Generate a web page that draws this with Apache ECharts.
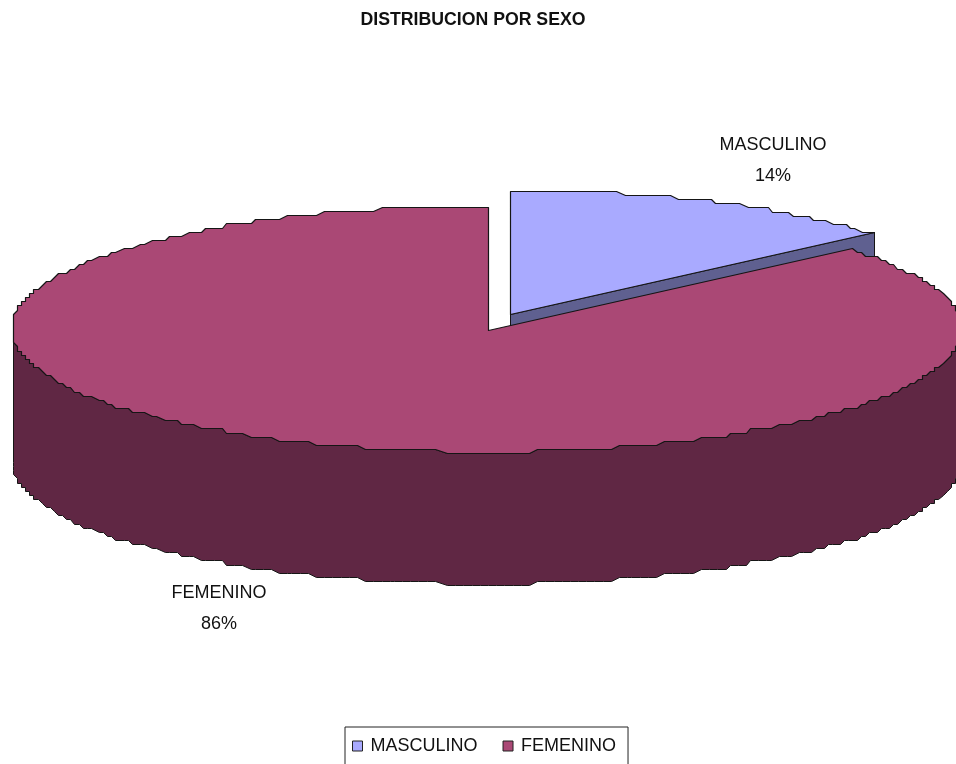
<!DOCTYPE html>
<html>
<head>
<meta charset="utf-8">
<style>html,body{margin:0;padding:0;background:#fff}#c{width:956px;height:764px}</style>
<script src="https://cdn.jsdelivr.net/npm/echarts@6/dist/echarts.min.js"></script>
</head>
<body>
<div id="c"></div>
<script>
// Share of each sex, in percent.
const categories = ['MASCULINO', 'FEMENINO'];
const shares = [14, 86];

const topColors = ['#A9AAFF', '#AA4875'];
const sideColors = ['#5F6090', '#602744'];
const lineColor = '#151515';

// Disc geometry: an ellipse with a visible wall, seen from above.
const radiusX = 475;
const radiusY = 123;
const wallDepth = 132;
const centres = [[510, 314], [488, 330]];
const gridStep = 4.1;
const labelAnchors = [[773, 160.5], [219, 609]];

const total = shares.reduce((a, b) => a + b, 0);

// Rim vertices sit one degree apart and are snapped to a coarse raster
// counted from the ellipse's extreme, which keeps the outline stepped.
function snap(offset, radius) {
  const step = radius / Math.round(radius / gridStep);
  return Math.floor((offset + radius + 0.5) / step) * step - radius;
}

function rim(centre, fromShare, toShare) {
  const fromDeg = fromShare / total * 360;
  const toDeg = toShare / total * 360;
  const degs = [fromDeg];
  for (let d = Math.floor(fromDeg) + 1; d < toDeg; d++) degs.push(d);
  degs.push(toDeg);
  return degs.map(d => {
    const a = d * Math.PI / 180;
    const x = centre[0] + snap(radiusX * Math.sin(a), radiusX);
    const y = centre[1] + snap(-radiusY * Math.cos(a), radiusY);
    return [Math.round(x) + 0.5, Math.round(y) + 0.5];
  });
}

function poly(points, fill, width) {
  return {
    type: 'polygon',
    shape: { points },
    style: { fill, stroke: lineColor, lineWidth: width || 1, lineJoin: 'round' }
  };
}

function renderSlice(index) {
  return function (params, api) {
    const value = api.value(0);
    const start = shares.slice(0, index).reduce((a, b) => a + b, 0);
    const end = start + value;
    const c = centres[index];
    const apex = [c[0] + 0.5, c[1] + 0.5];
    const arc = rim(c, start, end);
    const children = [];

    if (index === 0) {
      // Cut face running from the centre to the end of the arc.
      const tip = arc[arc.length - 1];
      children.push(poly([apex, tip, [tip[0], tip[1] + wallDepth], [apex[0], apex[1] + wallDepth]], sideColors[index]));
    } else {
      // Front wall: the half of the rim facing the viewer, a quarter turn either side of the bottom.
      const front = rim(c, total * 0.25, total * 0.75);
      const lower = front.slice().reverse().map(p => [p[0], p[1] + wallDepth]);
      children.push(poly(front.concat(lower), sideColors[index]));
    }
    children.push(poly([apex].concat(arc), topColors[index], 1.2));

    children.push({
      type: 'text',
      x: labelAnchors[index][0],
      y: labelAnchors[index][1],
      style: {
        text: categories[index] + '\n' + value + '%',
        fill: '#111',
        font: '18px "Liberation Sans", Arial, sans-serif',
        lineHeight: 31,
        align: 'center',
        verticalAlign: 'middle'
      }
    });
    return { type: 'group', children };
  };
}

const chart = echarts.init(document.getElementById('c'), null, { renderer: 'canvas' });
chart.setOption({
  animation: false,
  backgroundColor: '#fff',
  title: {
    text: 'DISTRIBUCION POR SEXO',
    left: 468,
    top: 6,
    textAlign: 'center',
    textStyle: {
      fontFamily: '"Liberation Sans", Arial, sans-serif',
      fontWeight: 'bold',
      fontSize: 17.7,
      color: '#111'
    }
  },
  legend: {
    left: 345,
    top: 727,
    padding: [10, 12, 12, 7],
    itemGap: 25,
    itemWidth: 10,
    itemHeight: 10,
    borderColor: '#222',
    borderWidth: 1,
    backgroundColor: '#fff',
    selectedMode: false,
    textStyle: {
      fontFamily: '"Liberation Sans", Arial, sans-serif',
      fontSize: 18,
      color: '#111',
      padding: [0, 0, 0, 3]
    },
    data: categories.map((name, i) => ({
      name,
      icon: 'rect',
      itemStyle: { color: topColors[i], borderColor: '#222', borderWidth: 1 }
    }))
  },
  series: categories.map((name, i) => ({
    type: 'custom',
    name,
    coordinateSystem: 'none',
    itemStyle: { color: topColors[i] },
    data: [[shares[i]]],
    renderItem: renderSlice(i),
    silent: true
  }))
});
</script>
</body>
</html>
